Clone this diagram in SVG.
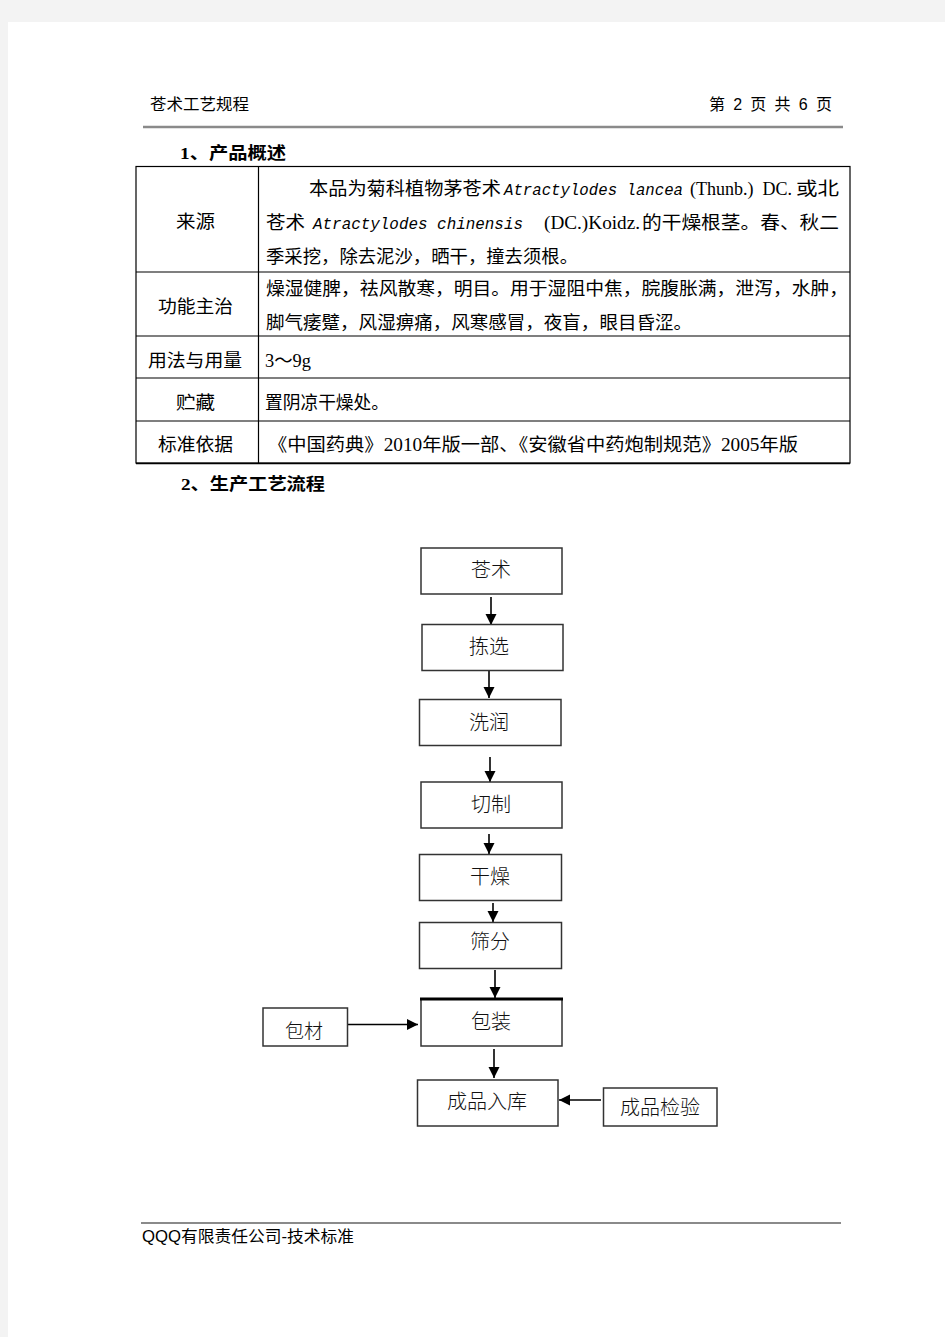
<svg xmlns="http://www.w3.org/2000/svg" width="945" height="1337" viewBox="0 0 945 1337">
<style>
.t{font-family:"Liberation Serif","Noto Sans CJK SC",serif;font-size:18px;fill:#000}
.h{font-family:"Liberation Sans","Noto Sans CJK SC",sans-serif;font-size:16px;fill:#000}
.b{font-family:"Liberation Serif","Noto Sans CJK SC",serif;font-size:17px;font-weight:bold;fill:#000}
.m{font-family:"Liberation Mono",monospace;font-size:16px;fill:#000}
.i{font-style:italic}
.tl{stroke:#000;stroke-width:1.2;fill:none}
.box{fill:#fff;stroke:#333;stroke-width:1.5}
.nt{font-family:"Noto Sans CJK SC",sans-serif;font-size:20px;font-weight:300;fill:#111;text-anchor:middle}
.c{stroke:#000;stroke-width:1.6;fill:none;marker-end:url(#ah)}
</style>
<defs>
<marker id="ah" markerUnits="userSpaceOnUse" markerWidth="12" markerHeight="12" refX="11" refY="6" orient="auto">
<path d="M0,0.5 L11,6 L0,11.5 Z" fill="#000"/>
</marker>
</defs>
<rect x="0" y="0" width="945" height="1337" fill="#f3f3f3"/>
<rect x="8" y="22" width="937" height="1315" fill="#fff"/>

<g id="header">
<text class="h" x="150" y="110" textLength="99" lengthAdjust="spacingAndGlyphs">苍术工艺规程</text>
<text class="h" x="709" y="110" textLength="123" lengthAdjust="spacing" xml:space="preserve">第 2 页 共 6 页</text>
<line x1="143" y1="127" x2="843" y2="127" stroke="#8a8a8a" stroke-width="2.5"/>
<text class="b" x="180" y="159" textLength="106" lengthAdjust="spacingAndGlyphs">1、产品概述</text>
</g>

<g id="table">
<rect class="tl" x="136" y="166.5" width="714" height="296.5"/>
<line class="tl" x1="258.5" y1="166.5" x2="258.5" y2="463"/>
<line class="tl" x1="136" y1="272" x2="850" y2="272"/>
<line class="tl" x1="136" y1="336" x2="850" y2="336"/>
<line class="tl" x1="136" y1="378" x2="850" y2="378"/>
<line class="tl" x1="136" y1="421" x2="850" y2="421"/>
<line x1="136" y1="463.5" x2="850" y2="463.5" stroke="#000" stroke-width="1.6"/>

<text class="t" x="176" y="228" textLength="39" lengthAdjust="spacingAndGlyphs">来源</text>
<text class="t" x="309" y="195" textLength="192" lengthAdjust="spacingAndGlyphs">本品为菊科植物茅苍术</text>
<text class="m i" x="504" y="195" textLength="179" lengthAdjust="spacingAndGlyphs">Atractylodes lancea</text>
<text class="t" x="690" y="195" textLength="102" lengthAdjust="spacingAndGlyphs" xml:space="preserve">(Thunb.)  DC.</text>
<text class="t" x="796" y="195" textLength="43" lengthAdjust="spacingAndGlyphs">或北</text>
<text class="t" x="266" y="229" textLength="39" lengthAdjust="spacingAndGlyphs">苍术</text>
<text class="m i" x="313" y="229" textLength="210" lengthAdjust="spacingAndGlyphs">Atractylodes chinensis</text>
<text class="t" x="544" y="229" textLength="96" lengthAdjust="spacingAndGlyphs">(DC.)Koidz.</text>
<text class="t" x="642" y="229" textLength="197" lengthAdjust="spacingAndGlyphs">的干燥根茎。春、秋二</text>
<text class="t" x="266" y="263" textLength="312" lengthAdjust="spacingAndGlyphs">季采挖，除去泥沙，晒干，撞去须根。</text>

<text class="t" x="158" y="313" textLength="75" lengthAdjust="spacingAndGlyphs">功能主治</text>
<text class="t" x="266" y="295" textLength="582" lengthAdjust="spacingAndGlyphs">燥湿健脾，祛风散寒，明目。用于湿阻中焦，脘腹胀满，泄泻，水肿，</text>
<text class="t" x="266" y="329" textLength="426" lengthAdjust="spacingAndGlyphs">脚气痿躄，风湿痹痛，风寒感冒，夜盲，眼目昏涩。</text>

<text class="t" x="148" y="367" textLength="94" lengthAdjust="spacingAndGlyphs">用法与用量</text>
<text class="t" x="265" y="367" textLength="46" lengthAdjust="spacingAndGlyphs">3～9g</text>

<text class="t" x="176" y="409" textLength="39" lengthAdjust="spacingAndGlyphs">贮藏</text>
<text class="t" x="265" y="409" textLength="124" lengthAdjust="spacingAndGlyphs">置阴凉干燥处。</text>

<text class="t" x="158" y="451" textLength="75" lengthAdjust="spacingAndGlyphs">标准依据</text>
<text class="t" x="268" y="451" textLength="530" lengthAdjust="spacingAndGlyphs">《中国药典》2010年版一部、《安徽省中药炮制规范》2005年版</text>
</g>

<text class="b" x="181" y="490" textLength="144" lengthAdjust="spacingAndGlyphs">2、生产工艺流程</text>

<g id="connectors">
<line class="c" x1="491" y1="597" x2="491" y2="625"/>
<line class="c" x1="489" y1="671" x2="489" y2="698"/>
<line class="c" x1="490" y1="757" x2="490" y2="782"/>
<line class="c" x1="489" y1="834" x2="489" y2="854"/>
<line class="c" x1="493" y1="903" x2="493" y2="922"/>
<line class="c" x1="495" y1="970" x2="495" y2="998"/>
<line class="c" x1="347" y1="1024.5" x2="418" y2="1024.5"/>
<line class="c" x1="494" y1="1049" x2="494" y2="1078"/>
<line class="c" x1="601" y1="1100" x2="559" y2="1100"/>
</g>

<g id="n-cangzhu"><rect class="box" x="421" y="548" width="141" height="46"/><text class="nt" x="491" y="577">苍术</text></g>
<g id="n-jianxuan"><rect class="box" x="422" y="624.5" width="141" height="46"/><text class="nt" x="489" y="654">拣选</text></g>
<g id="n-xirun"><rect class="box" x="419.5" y="699.5" width="141.5" height="46"/><text class="nt" x="489" y="730">洗润</text></g>
<g id="n-qiezhi"><rect class="box" x="421" y="782" width="141" height="46"/><text class="nt" x="491" y="812">切制</text></g>
<g id="n-ganzao"><rect class="box" x="419.5" y="854.5" width="142" height="46"/><text class="nt" x="490" y="884">干燥</text></g>
<g id="n-shaifen"><rect class="box" x="419.5" y="922.5" width="142" height="46"/><text class="nt" x="490" y="949">筛分</text></g>
<g id="n-baozhuang"><rect class="box" x="421" y="999" width="141" height="47"/><line x1="420" y1="999" x2="563" y2="999" stroke="#000" stroke-width="3"/><text class="nt" x="491" y="1029">包装</text></g>
<g id="n-baocai"><rect class="box" x="263" y="1008" width="84.5" height="38"/><text class="nt" x="304" y="1038" style="font-size:19px">包材</text></g>
<g id="n-chengpinruku"><rect class="box" x="417.5" y="1080" width="140.5" height="46"/><text class="nt" x="487" y="1109">成品入库</text></g>
<g id="n-chengpinjianyan"><rect class="box" x="603.5" y="1088" width="113.5" height="38"/><text class="nt" x="660" y="1115">成品检验</text></g>

<g id="footer">
<line x1="141" y1="1223" x2="841" y2="1223" stroke="#8a8a8a" stroke-width="2"/>
<text class="h" x="142" y="1242" textLength="212" lengthAdjust="spacingAndGlyphs">QQQ有限责任公司-技术标准</text>
</g>
</svg>
